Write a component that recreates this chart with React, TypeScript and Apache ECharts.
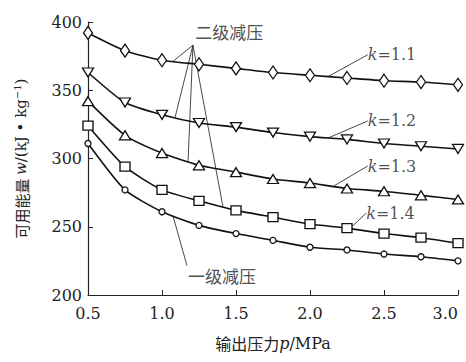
import React, { useEffect, useRef } from "react";
import * as echarts from "echarts";

const pressures = [0.5, 0.75, 1.0, 1.25, 1.5, 1.75, 2.0, 2.25, 2.5, 2.75, 3.0];
const k11 = [392, 379, 372, 369, 366, 363, 361, 359, 357, 356, 354];
const k12 = [363, 341, 332, 326, 323, 319, 316, 314, 311, 309, 307];
const k13 = [342, 317, 304, 295, 290, 285, 282, 278, 276, 273, 270];
const k14 = [324, 294, 277, 269, 262, 257, 252, 249, 245, 242, 238];
const oneStage = [311, 277, 261, 251, 245, 240, 235, 233, 230, 228, 225];

const xTicks = [0.5, 1.0, 1.5, 2.0, 2.5, 3.0];
const yTicks = [200, 250, 300, 350, 400];

// annotation anchors (data coordinates)
const twoStageApex: [number, number] = [1.209, 383];
const twoStageTargets: [number, number][] = [
  [1.074, 371.1],
  [1.088, 329.9],
  [1.176, 297.7],
  [1.412, 264.5],
];
const twoStageLabelPos: [number, number] = [1.225, 393];
const oneStageLeader: [number, number][] = [
  [1.074, 258],
  [1.169, 221.5],
];
const oneStageLabelPos: [number, number] = [1.175, 214.4];
const kLabels = ["1.1", "1.2", "1.3", "1.4"];
const kLeaderStarts: [number, number][] = [
  [2.122, 360],
  [2.122, 315],
  [2.155, 279.5],
  [2.27, 248.7],
];
const kLabelPos: [number, number][] = [
  [2.39, 376],
  [2.39, 327.5],
  [2.39, 294.5],
  [2.38, 260],
];

const SERIF = "DejaVu Serif";
const CJK = "Noto Sans CJK SC";

export default function App() {
  const ref = useRef<HTMLDivElement>(null);
  useEffect(() => {
    document.body.style.margin = "0";
    if (!ref.current) return;
    const chart = echarts.init(ref.current, undefined, { renderer: "svg" });

    const curve = (name: string, vals: number[], symbol: string, size: any, rotate = 0) => ({
      name,
      type: "line",
      data: pressures.map((p, i) => [p, vals[i]]),
      symbol,
      symbolSize: size,
      symbolRotate: rotate,
      showAllSymbol: true,
      smooth: 0.2,
      z: 3,
      lineStyle: { color: "#111", width: 1.6 },
      itemStyle: { color: "#fff", borderColor: "#111", borderWidth: 1.3 },
    });

    const leader = (pts: [number, number][]) => ({
      type: "line",
      data: pts,
      symbol: "none",
      silent: true,
      z: 2,
      lineStyle: { color: "#333", width: 0.9 },
    });

    const textMark = (pos: [number, number], text: string, fontFamily: string, fontSize: number) => ({
      type: "scatter",
      data: [pos],
      symbolSize: 0,
      silent: true,
      z: 4,
      label: {
        show: true,
        position: "right",
        distance: 0,
        formatter: text,
        color: "#222",
        fontFamily,
        fontSize,
        rich: {
          i: { fontStyle: "italic", fontFamily: SERIF, fontSize, color: "#222" },
          n: { fontFamily: SERIF, fontSize, color: "#222" },
        },
      },
    });

    const series: any[] = [];
    twoStageTargets.forEach((t) => series.push(leader([twoStageApex, t])));
    series.push(leader(oneStageLeader));
    kLeaderStarts.forEach((s, i) => series.push(leader([s, kLabelPos[i]])));
    series.push(curve("k=1.1", k11, "diamond", [9, 13]));
    series.push(curve("k=1.2", k12, "triangle", [11, 9], 180));
    series.push(curve("k=1.3", k13, "triangle", [11, 9]));
    series.push(curve("k=1.4", k14, "rect", [10, 9]));
    series.push(curve("一级减压", oneStage, "circle", 6));
    series.push(textMark(twoStageLabelPos, "二级减压", CJK, 17));
    series.push(textMark(oneStageLabelPos, "一级减压", CJK, 17));
    kLabels.forEach((k, i) => series.push(textMark(kLabelPos[i], `{i|k}{n|=${k}}`, SERIF, 16)));

    chart.setOption({
      animation: false,
      backgroundColor: "#fff",
      grid: { left: 88, right: 8, top: 22, bottom: 67, containLabel: false },
      xAxis: {
        type: "value",
        min: 0.5,
        max: 3.0,
        interval: 0.5,
        axisLine: { show: true, lineStyle: { color: "#222", width: 1.2 } },
        axisTick: { show: true, inside: true, length: 5, lineStyle: { color: "#222" } },
        splitLine: { show: false },
        axisLabel: {
          margin: 10,
          color: "#222",
          fontFamily: SERIF,
          fontSize: 16,
          alignMaxLabel: "right",
          formatter: (v: number) => (xTicks.includes(v) ? v.toFixed(1) : ""),
        },
        name: "输出压力{i|p}{n|/MPa}",
        nameLocation: "middle",
        nameGap: 40,
        nameTextStyle: {
          color: "#222",
          fontFamily: CJK,
          fontSize: 16,
          rich: {
            i: { fontStyle: "italic", fontFamily: SERIF, fontSize: 16, color: "#222" },
            n: { fontFamily: SERIF, fontSize: 16, color: "#222" },
          },
        },
      },
      yAxis: {
        type: "value",
        min: 200,
        max: 400,
        interval: 50,
        axisLine: { show: true, lineStyle: { color: "#222", width: 1.2 } },
        axisTick: { show: true, inside: true, length: 5, lineStyle: { color: "#222" } },
        splitLine: { show: false },
        axisLabel: {
          margin: 6,
          color: "#222",
          fontFamily: SERIF,
          fontSize: 16,
          formatter: (v: number) => (yTicks.includes(v) ? String(v) : ""),
        },
        name: "可用能量 {i|w}{n|/(kJ • kg}{sup|−1}{n|)}",
        nameLocation: "middle",
        nameRotate: 90,
        nameGap: 58,
        nameTextStyle: {
          color: "#222",
          fontFamily: CJK,
          fontSize: 15,
          rich: {
            i: { fontStyle: "italic", fontFamily: SERIF, fontSize: 15, color: "#222" },
            n: { fontFamily: SERIF, fontSize: 15, color: "#222" },
            sup: { fontFamily: SERIF, fontSize: 10, color: "#222", verticalAlign: "top", padding: [0, 0, 8, 0] },
          },
        },
      },
      series,
    });
    return () => chart.dispose();
  }, []);
  return <div ref={ref} style={{ width: 466, height: 362 }} />;
}
